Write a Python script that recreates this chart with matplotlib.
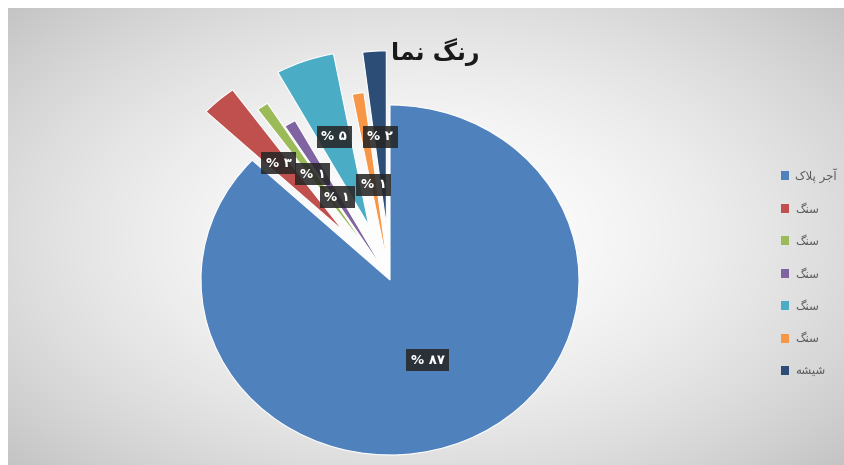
import numpy as np
import matplotlib
matplotlib.use('Agg')
import matplotlib.pyplot as plt

# data
title = 'رنگ نما'
labels = ['آجر پلاک', 'سنگ', 'سنگ', 'سنگ', 'سنگ', 'سنگ', 'شیشه']
values = [87, 3, 1, 1, 5, 1, 2]
colors = ['#4F81BD', '#C0504D', '#9BBB59', '#8064A2', '#4BACC6', '#F79646', '#2C4D75']

# point explosion and label radius per slice (layout only)
explode = [0.0, 0.37, 0.2, 0.04, 0.33, 0.08, 0.31]
label_r = [0.5, 0.89, 0.73, 0.55, 0.87, 0.55, 0.82]

# matplotlib does no arabic shaping, so pick presentation forms by hand
FORMS = {
    'ا': ('\uFE8D', '\uFE8E', None, None),
    'آ': ('\uFE81', '\uFE82', None, None),
    'ر': ('\uFEAD', '\uFEAE', None, None),
    'ج': ('\uFE9D', '\uFE9E', '\uFE9F', '\uFEA0'),
    'س': ('\uFEB1', '\uFEB2', '\uFEB3', '\uFEB4'),
    'ش': ('\uFEB5', '\uFEB6', '\uFEB7', '\uFEB8'),
    'ل': ('\uFEDD', '\uFEDE', '\uFEDF', '\uFEE0'),
    'م': ('\uFEE1', '\uFEE2', '\uFEE3', '\uFEE4'),
    'ن': ('\uFEE5', '\uFEE6', '\uFEE7', '\uFEE8'),
    'ه': ('\uFEE9', '\uFEEA', '\uFEEB', '\uFEEC'),
    'پ': ('\uFB56', '\uFB57', '\uFB58', '\uFB59'),
    'ک': ('\uFB8E', '\uFB8F', '\uFB90', '\uFB91'),
    'گ': ('\uFB92', '\uFB93', '\uFB94', '\uFB95'),
    'ی': ('\uFBFC', '\uFBFD', '\uFBFE', '\uFBFF'),
}
LAMALEF = ('\uFEFB', '\uFEFC')


def joins_left(c):
    return c in FORMS and FORMS[c][2] is not None


def shape(text):
    out = []
    i = 0
    while i < len(text):
        c = text[i]
        prev = text[i-1] if i > 0 else ''
        nxt = text[i+1] if i + 1 < len(text) else ''
        if c not in FORMS:
            out.append(c)
            i += 1
            continue
        jp = joins_left(prev)
        if c == 'ل' and nxt in ('ا', 'آ'):
            out.append(LAMALEF[1] if jp else LAMALEF[0])
            i += 2
            continue
        jn = joins_left(c) and nxt in FORMS
        f = FORMS[c]
        if jp and jn:
            out.append(f[3])
        elif jp:
            out.append(f[1])
        elif jn:
            out.append(f[2])
        else:
            out.append(f[0])
        i += 1
    return ''.join(out[::-1])


def fa_num(n):
    return str(n).translate(str.maketrans('0123456789', '۰۱۲۳۴۵۶۷۸۹'))


fig = plt.figure(figsize=(8.45, 4.65), dpi=100)
fig.patch.set_facecolor('white')

# chart area with soft radial gradient
bg = fig.add_axes([8/845, 0, 1 - 8/845, 1 - 8/465])
gx, gy = np.meshgrid(np.linspace(-1, 1, 400), np.linspace(-1, 1, 220))
rr = np.clip(np.sqrt((gx * 0.95) ** 2 + (gy * 0.9) ** 2), 0, 1.4)
shade = 1 - 0.15 * rr ** 1.6
bg.imshow(np.dstack([shade] * 3), aspect='auto', extent=(0, 1, 0, 1), interpolation='bicubic')
bg.axis('off')

ax = fig.add_axes([0, 0, 1, 1])
ax.set_facecolor('none')
wedges, texts, autotexts = ax.pie(
    values, colors=colors, explode=explode, startangle=90, counterclock=False,
    autopct=lambda p: '% ' + fa_num(int(round(p))), pctdistance=0.5,
    wedgeprops=dict(edgecolor='white', linewidth=0.8),
    textprops=dict(color='white', fontsize=9.5, fontweight='bold', family='DejaVu Sans'))

for w, t, r in zip(wedges, autotexts, label_r):
    ang = np.deg2rad((w.theta1 + w.theta2) / 2)
    t.set_position((r * np.cos(ang), r * np.sin(ang)))
    t.set_bbox(dict(boxstyle='square,pad=0.35', fc='#262626', ec='none', alpha=0.88))

# stretched like the source picture
ax.set_aspect('auto')
ax.set_xlim(-390/189, 455/189)
ax.set_ylim(-185/175, 280/175)
ax.axis('off')

fig.text(435/845, 1 - 52/465, shape(title), ha='center', va='center',
         fontsize=17, fontweight='bold', color='#1a1a1a', family='DejaVu Sans')

leg = fig.legend(wedges, [shape(l) for l in labels], loc='center left',
                 bbox_to_anchor=(770/845, 1 - 273/465), frameon=False,
                 labelspacing=1.65, handlelength=0.75, handleheight=0.75,
                 handletextpad=0.5, prop=dict(family='DejaVu Sans', size=8.5))
for t in leg.get_texts():
    t.set_color('#595959')
for h in leg.legend_handles:
    h.set_edgecolor('none')

fig.savefig('out.png', dpi=100)
